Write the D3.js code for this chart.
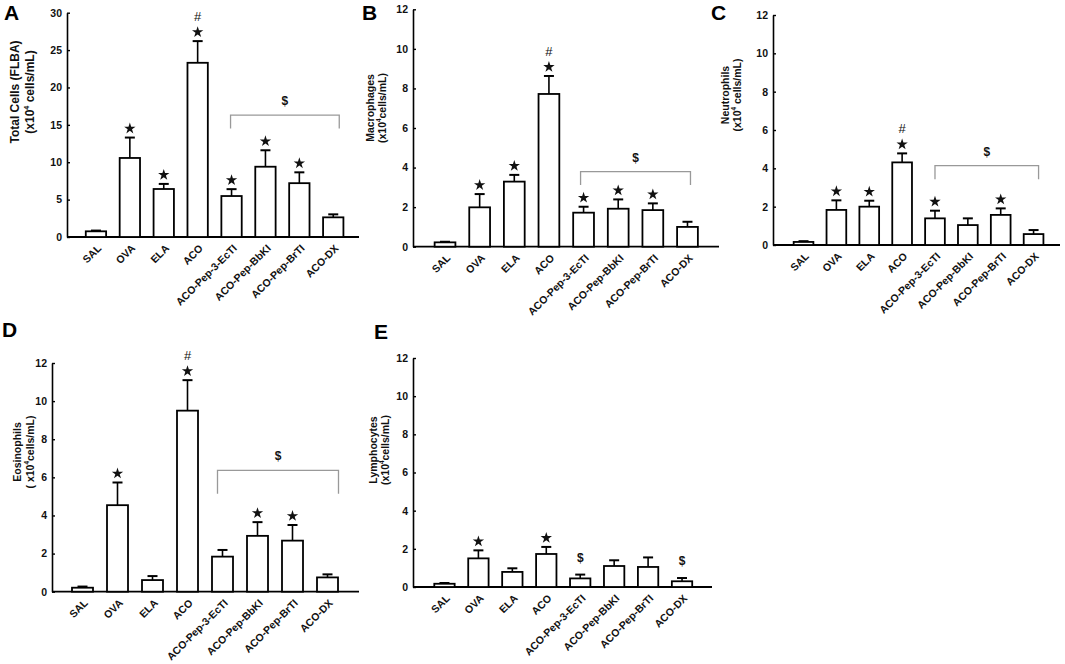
<!DOCTYPE html>
<html lang="en">
<head>
<meta charset="UTF-8">
<title>BAL cell counts</title>
<script src="https://d3js.org/d3.v7.min.js"></script>
<style>
  body { margin: 0; background: #fff; }
  svg { display: block; font-family: "Liberation Sans", Arial, sans-serif; }
</style>
</head>
<body>
<svg width="1065" height="664"></svg>

<script>
    // groups on the x axis
    const groups = ["SAL", "OVA", "ELA", "ACO", "ACO-Pep-3-EcTI", "ACO-Pep-BbKI", "ACO-Pep-BrTI", "ACO-DX"];

    // mean and SEM (x10^4 cells/mL)
    const totalMean = [0.76, 10.57, 6.42, 23.3, 5.48, 9.4, 7.2, 2.63];
    const totalSem  = [0.1, 2.73, 0.68, 2.9, 0.92, 2.2, 1.45, 0.4];
    const totalMarks = ["", "*", "*", "*#", "*", "*", "*", ""];

    const macroMean = [0.22, 1.99, 3.29, 7.72, 1.72, 1.92, 1.85, 1.0];
    const macroSem  = [0.03, 0.67, 0.34, 0.91, 0.3, 0.47, 0.34, 0.26];
    const macroMarks = ["", "*", "*", "*#", "*", "*", "*", ""];

    const neutroMean = [0.16, 1.83, 2.0, 4.31, 1.39, 1.04, 1.57, 0.57];
    const neutroSem  = [0.04, 0.5, 0.31, 0.47, 0.4, 0.35, 0.34, 0.21];
    const neutroMarks = ["", "*", "*", "*#", "*", "", "*", ""];

    const eosMean = [0.21, 4.54, 0.61, 9.5, 1.84, 2.93, 2.68, 0.75];
    const eosSem  = [0.06, 1.19, 0.21, 1.6, 0.35, 0.72, 0.82, 0.16];
    const eosMarks = ["", "*", "", "*#", "", "*", "*", ""];

    const lymphMean = [0.17, 1.5, 0.79, 1.73, 0.45, 1.1, 1.05, 0.3];
    const lymphSem  = [0.04, 0.42, 0.19, 0.37, 0.2, 0.3, 0.5, 0.17];
    const lymphMarks = ["", "*", "", "*", "$", "", "", "$"];

    // "$" bracket over the treated groups: line level and the level the ends drop to
    const totalBracket  = {top: 16.3, drop: 14.5};
    const macroBracket  = {top: 3.79, drop: 3.12};
    const neutroBracket = {top: 4.14, drop: 3.43};
    const eosBracket    = {top: 6.37, drop: 5.14};

    const ticks30 = [0, 5, 10, 15, 20, 25, 30];
    const ticks12 = [0, 2, 4, 6, 8, 10, 12];

    const panels = [
        {letter: "A", lx: 4, ly: 20, mean: totalMean, sem: totalSem, marks: totalMarks, bracket: totalBracket,
         yMax: 30, ticks: ticks30, axisX: 67, axisEnd: 359, y0: 237, yTop: 12.7, b0: 79, b1: 350.2,
         br: [-1, 6], title: ["Total Cells (FLBA)", "(x10", "4", " cells/mL)"], tx: [15, 30], ty: 92, ts: 12},
        {letter: "B", lx: 362, ly: 20, mean: macroMean, sem: macroSem, marks: macroMarks, bracket: macroBracket,
         yMax: 12, ticks: ticks12, axisX: 413, axisEnd: 719, y0: 246.7, yTop: 9.3, b0: 427.7, b1: 704.8,
         br: [-3, 3], title: ["Macrophages", "(x10", "4", "cells/mL)"], tx: [370, 382], ty: 108, ts: 10.5},
        {letter: "C", lx: 711, ly: 20, mean: neutroMean, sem: neutroSem, marks: neutroMarks, bracket: neutroBracket,
         yMax: 12, ticks: ticks12, axisX: 773, axisEnd: 1060, y0: 245, yTop: 15, b0: 787.1, b1: 1050,
         br: [0, 5], title: ["Neutrophils", "(x10", "4", " cells/mL)"], tx: [725, 737], ty: 95, ts: 10.5},
        {letter: "D", lx: 2, ly: 337, mean: eosMean, sem: eosSem, marks: eosMarks, bracket: eosBracket,
         yMax: 12, ticks: ticks12, axisX: 52, axisEnd: 359, y0: 591.7, yTop: 363, b0: 65, b1: 345,
         br: [-5, 11], title: ["Eosinophils", "( x10", "4", "cells/mL)"], tx: [17, 30], ty: 452, ts: 10.5},
        {letter: "E", lx: 374, ly: 339, mean: lymphMean, sem: lymphSem, marks: lymphMarks, bracket: null,
         yMax: 12, ticks: ticks12, axisX: 413, axisEnd: 712, y0: 587, yTop: 358, b0: 427.5, b1: 699,
         br: null, title: ["Lymphocytes", "(x10", "4", "cells/mL)"], tx: [373, 385], ty: 450, ts: 10.5}
    ];

    let svg = d3.select("svg");
    const star = d3.symbol().type(d3.symbolStar).size(40);

    panels.forEach(function (p) {
        let g = svg.append("g");

        let y = d3.scaleLinear().domain([0, p.yMax]).range([p.y0, p.yTop]);
        let x = d3.scaleBand().domain(groups).range([p.b0, p.b1])
            .paddingInner(0.4).paddingOuter(0.2);
        let cx = function (i) { return x(groups[i]) + x.bandwidth() / 2; };

        // panel letter
        g.append("text").attr("x", p.lx).attr("y", p.ly)
            .attr("font-size", 21).attr("font-weight", "bold").text(p.letter);

        // y axis, ticks pointing inwards
        let yAxis = g.append("g").attr("transform", "translate(" + p.axisX + ",0)")
            .call(d3.axisLeft(y).tickValues(p.ticks).tickSize(-3).tickSizeOuter(0).tickPadding(5));
        yAxis.select(".domain").attr("stroke-width", 1.6);
        yAxis.selectAll(".tick line").attr("stroke-width", 1.4);
        yAxis.selectAll(".tick text")
            .attr("font-family", "Liberation Sans, Arial, sans-serif")
            .attr("font-size", 10.5).attr("font-weight", "bold").attr("fill", "#111");

        // x axis line
        g.append("line").attr("x1", p.axisX).attr("x2", p.axisEnd)
            .attr("y1", p.y0).attr("y2", p.y0)
            .attr("stroke", "black").attr("stroke-width", 1.8);

        // y title, two lines
        g.append("text")
            .attr("transform", "translate(" + p.tx[0] + "," + p.ty + ") rotate(-90)")
            .attr("text-anchor", "middle").attr("dominant-baseline", "central")
            .attr("font-size", p.ts).attr("font-weight", "bold").attr("fill", "#111")
            .text(p.title[0]);
        let t2 = g.append("text")
            .attr("transform", "translate(" + p.tx[1] + "," + p.ty + ") rotate(-90)")
            .attr("text-anchor", "middle").attr("dominant-baseline", "central")
            .attr("font-size", p.ts).attr("font-weight", "bold").attr("fill", "#111");
        t2.append("tspan").text(p.title[1]);
        t2.append("tspan").attr("dy", -p.ts * 0.35).attr("font-size", p.ts * 0.6).text(p.title[2]);
        t2.append("tspan").attr("dy", p.ts * 0.35).text(p.title[3]);

        // error bars (upper only)
        let err = g.append("g").selectAll("g").data(p.mean).enter().append("g");
        err.append("line")
            .attr("x1", function (d, i) { return cx(i); })
            .attr("x2", function (d, i) { return cx(i); })
            .attr("y1", function (d) { return y(d); })
            .attr("y2", function (d, i) { return y(d + p.sem[i]); })
            .attr("stroke", "black").attr("stroke-width", 1.6);
        err.append("line")
            .attr("x1", function (d, i) { return cx(i) - 5; })
            .attr("x2", function (d, i) { return cx(i) + 5; })
            .attr("y1", function (d, i) { return y(d + p.sem[i]); })
            .attr("y2", function (d, i) { return y(d + p.sem[i]); })
            .attr("stroke", "black").attr("stroke-width", 2);

        // bars
        g.append("g").selectAll("rect").data(p.mean).enter().append("rect")
            .attr("x", function (d, i) { return x(groups[i]); })
            .attr("width", x.bandwidth())
            .attr("y", function (d) { return y(d); })
            .attr("height", function (d) { return p.y0 - y(d); })
            .attr("fill", "white").attr("stroke", "black").attr("stroke-width", 1.8);

        // category labels
        g.append("g").selectAll("text").data(groups).enter().append("text")
            .attr("transform", function (d, i) {
                return "translate(" + (cx(i) + 6) + "," + (p.y0 + 12) + ") rotate(-45)";
            })
            .attr("text-anchor", "end").attr("font-size", 10.5).attr("font-weight", "bold")
            .attr("fill", "#111").text(function (d) { return d; });

        // significance marks
        p.marks.forEach(function (m, i) {
            let top = y(p.mean[i] + p.sem[i]);
            if (m.indexOf("*") >= 0) {
                g.append("path").attr("d", star)
                    .attr("transform", "translate(" + cx(i) + "," + (top - 9) + ")")
                    .attr("fill", "#111");
            }
            if (m.indexOf("#") >= 0) {
                g.append("text").attr("x", cx(i)).attr("y", top - 20)
                    .attr("text-anchor", "middle").attr("font-size", 13).attr("fill", "#111").text("#");
            }
            if (m.indexOf("$") >= 0) {
                g.append("text").attr("x", cx(i)).attr("y", top - 13)
                    .attr("text-anchor", "middle").attr("font-size", 12).attr("font-weight", "bold")
                    .attr("fill", "#111").text("$");
            }
        });

        // bracket over the treated groups
        if (p.bracket) {
            let xa = cx(4) + p.br[0], xb = cx(7) + p.br[1];
            let yl = y(p.bracket.top), yd = y(p.bracket.drop);
            g.append("path")
                .attr("d", "M" + xa + "," + yd + "V" + yl + "H" + xb + "V" + yd)
                .attr("fill", "none").attr("stroke", "#999").attr("stroke-width", 1.3);
            g.append("text").attr("x", (xa + xb) / 2).attr("y", yl - 10)
                .attr("text-anchor", "middle").attr("font-size", 12).attr("font-weight", "bold")
                .attr("fill", "#111").text("$");
        }
    });
</script>
</body>
</html>
